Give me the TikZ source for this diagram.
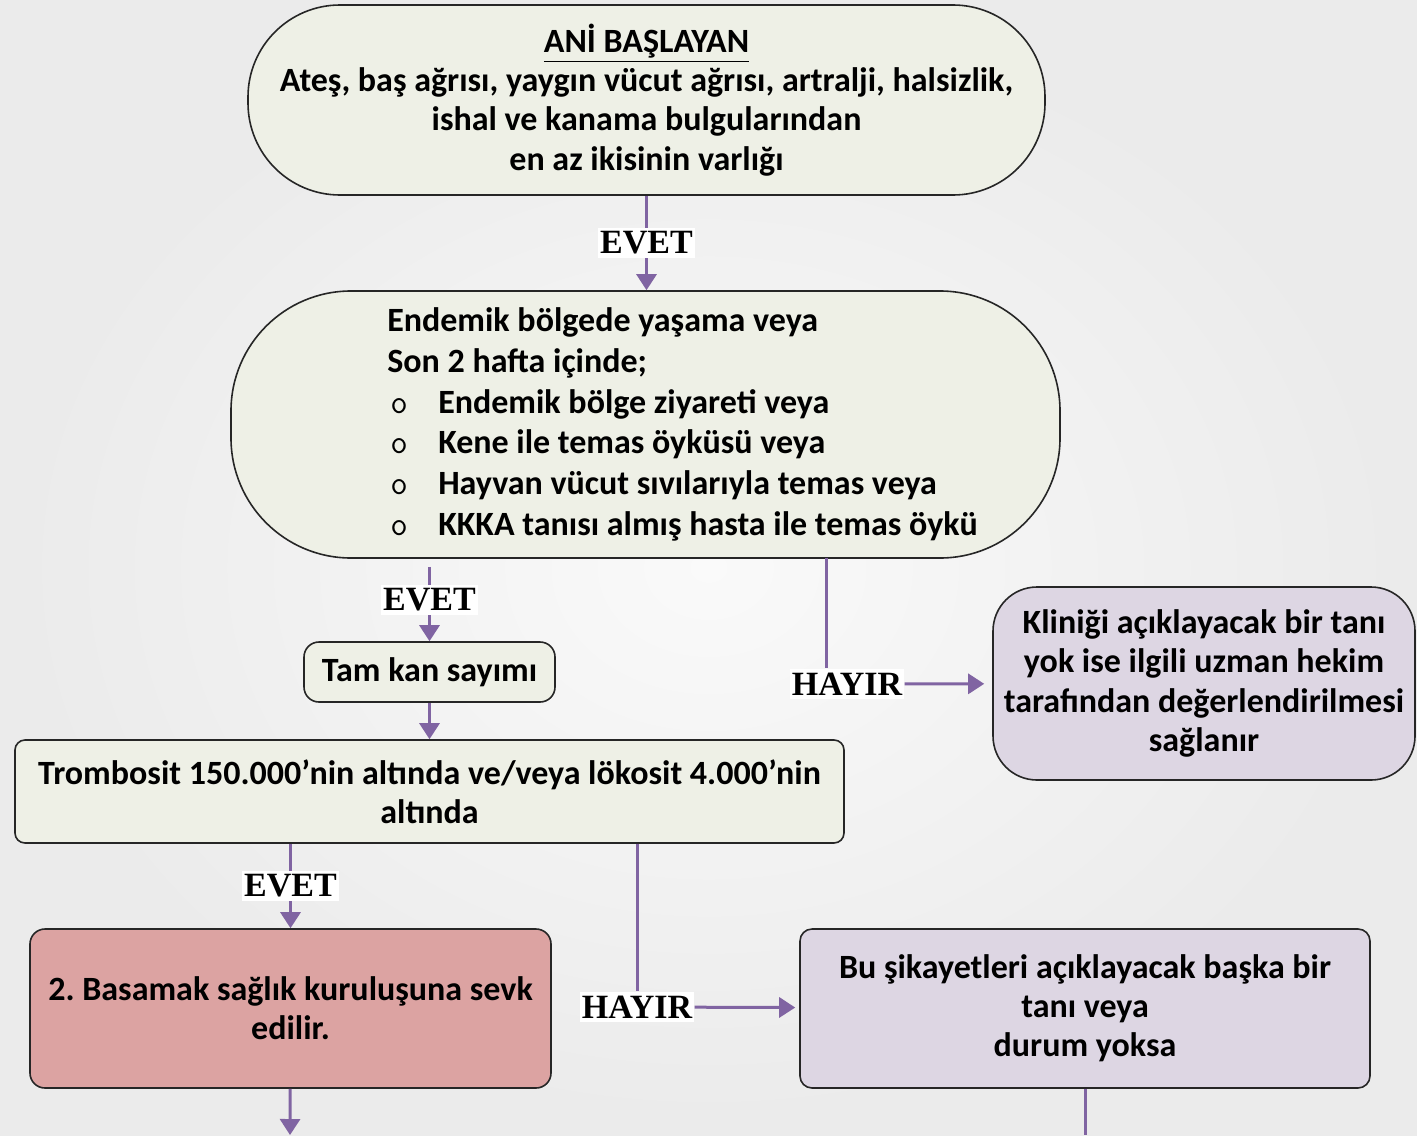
\documentclass[tikz,border=0pt]{standalone}
\usepackage{fontspec}
\setmainfont{Carlito}
\newfontfamily\timesb{Liberation Serif}
\usetikzlibrary{arrows.meta, positioning}
\frenchspacing
\definecolor{boxgreen}{HTML}{EEF0E6}
\definecolor{boxlila}{HTML}{DDD6E3}
\definecolor{boxpink}{HTML}{DCA3A2}
\definecolor{flowpurple}{HTML}{8064A2}
\tikzset{
  box/.style={draw=black!85, line width=0.8pt, align=center, inner sep=0pt,
    font=\bfseries\fontsize{17}{19.6}\selectfont},
  greenbox/.style={box, fill=boxgreen},
  lilabox/.style={box, fill=boxlila},
  pinkbox/.style={box, fill=boxpink},
  lbl/.style={fill=white, inner xsep=1pt, inner ysep=2pt, text=black,
    font=\timesb\bfseries\fontsize{17}{17}\selectfont},
  flowline/.style={draw=flowpurple, line width=1.5pt},
  flow/.style={flowline, -{Triangle[width=10pt, length=8pt]}}
}
\newcommand{\bul}{\makebox[25.5pt][l]{\hspace{1.5pt}\mdseries\ttfamily o}}
\begin{document}
\begin{tikzpicture}[x=0.5pt, y=-0.5pt]
  \useasboundingbox (0,0) rectangle (1417,1135);
  \shade[inner color=gray!4, outer color=gray!16] (0,0) rectangle (1417,1135);

  \node[greenbox, rounded corners=46pt, minimum width=398.5pt, minimum height=95pt]
    (ani) at (646.5,100)
    {\underline{ANİ BAŞLAYAN}\\
     Ateş, baş ağrısı, yaygın vücut ağrısı, artralji, halsizlik,\\
     ishal ve kanama bulgularından\\
     en az ikisinin varlığı};
  \node[greenbox, rounded corners=60pt, minimum width=414.5pt, minimum height=133.5pt,
    align=left, font=\bfseries\fontsize{17}{20.4}\selectfont]
    (endem) at (645.5,424.5)
    {\hspace*{37pt}Endemik bölgede yaşama veya\\
     \hspace*{37pt}Son 2 hafta içinde;\\
     \hspace*{37pt}\bul Endemik bölge ziyareti veya\\
     \hspace*{37pt}\bul Kene ile temas öyküsü veya\\
     \hspace*{37pt}\bul Hayvan vücut sıvılarıyla temas veya\\
     \hspace*{37pt}\bul KKKA tanısı almış hasta ile temas öykü};
  \node[greenbox, rounded corners=7.5pt, minimum width=125.5pt, minimum height=30pt]
    (tam) at (429.5,672) {Tam kan sayımı};
  \node[greenbox, rounded corners=5pt, minimum width=414.5pt, minimum height=51.5pt]
    (tromb) at (429.5,791.5)
    {Trombosit 150.000’nin altında ve/veya lökosit 4.000’nin\\ altında};
  \node[lilabox, rounded corners=22pt, minimum width=211pt, minimum height=96.5pt]
    (klinik) at (1204,683.5)
    {Kliniği açıklayacak bir tanı\\
     yok ise ilgili uzman hekim\\
     tarafından değerlendirilmesi\\
     sağlanır};
  \node[pinkbox, rounded corners=7.5pt, minimum width=260.5pt, minimum height=79.5pt]
    (basamak) at (290.5,1008.5)
    {2. Basamak sağlık kuruluşuna sevk\\ edilir.};
  \node[lilabox, rounded corners=6pt, minimum width=285pt, minimum height=79.5pt]
    (bu) at (1085,1008.5)
    {Bu şikayetleri açıklayacak başka bir\\ tanı veya\\ durum yoksa};

  \node[lbl] (hayir1) at (847,684) {HAYIR};
  \node[lbl] (hayir2) at (637,1007) {HAYIR};
  \coordinate (k1) at (826,558);
  \coordinate (out1) at (290,1135);
  \coordinate (out2) at (1085,1135);

  % connectors
  \draw[flow] (ani.south) -- node[lbl] {EVET} (ani.south |- endem.north);
  \draw[flow, shorten <=4pt] (endem.south -| tam) -- node[lbl] {EVET} (tam);
  \draw[flow] (tam) -- (tromb);
  \draw[flowline] (k1) -- (k1 |- hayir1.north);
  \draw[flow, shorten >=4pt] (hayir1) -- (klinik);
  \draw[flow] (tromb.south -| basamak) -- node[lbl] {EVET} (basamak);
  \draw[flowline] (tromb.south -| hayir2) -- (hayir2);
  \draw[flow, shorten >=2pt] (hayir2) -- (bu);
  \draw[flow] (basamak) -- (out1);
  \draw[flowline] (bu) -- (out2);
\end{tikzpicture}
\end{document}
